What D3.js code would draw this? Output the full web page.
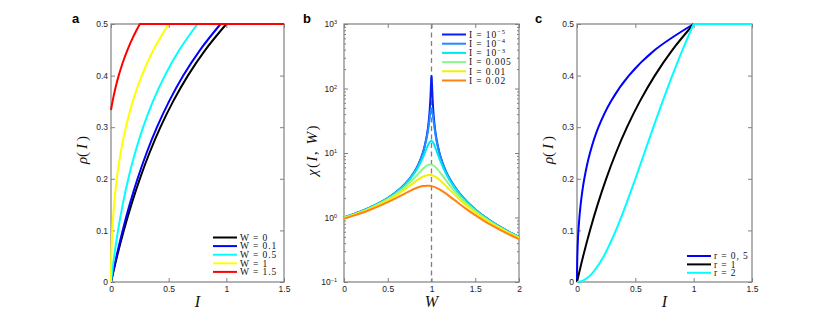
<!DOCTYPE html>
<html>
<head>
<meta charset="utf-8">
<style>
  body { margin: 0; background: #fff; }
  .tick text { font-family: "Liberation Sans", Arial, sans-serif; font-size: 8.5px; fill: #222; }
  .tick line { stroke: #808080; }
  .serif { font-family: "Liberation Serif", "Times New Roman", serif; fill: #111; }
  .letter { font-family: "Liberation Sans", Arial, sans-serif; font-weight: bold; font-size: 13px; }
</style>
</head>
<body>
<script src="https://cdn.jsdelivr.net/npm/d3@7"></script>
<script>
var width = 830, height = 317;
var plotTop = 24, plotBottom = 282;

// tick labels
var rhoTicks = [0, 0.1, 0.2, 0.3, 0.4, 0.5];
var iTicks = [0, 0.5, 1, 1.5];
var wTicks = [0, 0.5, 1, 1.5, 2];
var chiTicks = [0.1, 1, 10, 100, 1000];

// panel a : rho(I) for several W, points [I, rho]
var rhoW0 = [[0,0],[0.0526,0.05],[0.1111,0.1],[0.1765,0.15],[0.25,0.2],[0.3333,0.25],[0.4286,0.3],[0.5385,0.35],[0.6667,0.4],[0.8182,0.45],[1,0.5],[1.5,0.5]];
var rhoW01 = [[0,0],[0.0476,0.05],[0.1011,0.1],[0.1615,0.15],[0.23,0.2],[0.3083,0.25],[0.3986,0.3],[0.5035,0.35],[0.6267,0.4],[0.7732,0.45],[0.95,0.5],[1.5,0.5]];
var rhoW05 = [[0,0],[0.0131,0.025],[0.0276,0.05],[0.0611,0.1],[0.1015,0.15],[0.15,0.2],[0.2083,0.25],[0.2786,0.3],[0.3635,0.35],[0.4667,0.4],[0.5932,0.45],[0.75,0.5],[1.5,0.5]];
var rhoW1 = [[0,0],[0.0001,0.01],[0.0004,0.02],[0.0009,0.03],[0.0026,0.05],[0.0061,0.075],[0.0111,0.1],[0.0265,0.15],[0.05,0.2],[0.0833,0.25],[0.1286,0.3],[0.1885,0.35],[0.2667,0.4],[0.3682,0.45],[0.5,0.5],[1.5,0.5]];
var rhoW15 = [[0,0.3333],[0.0135,0.35],[0.0375,0.375],[0.0667,0.4],[0.1016,0.425],[0.1432,0.45],[0.1923,0.475],[0.25,0.5],[1.5,0.5]];
var wLabels = ["W = 0", "W = 0.1", "W = 0.5", "W = 1", "W = 1.5"];
var wColors = ["#000000", "#0000ff", "#00ffff", "#ffff00", "#ff0000"];

// panel b : chi(I, W), points [W, chi]
var chiI1 = [[0,1.000],[0.1,1.111],[0.2,1.250],[0.3,1.428],[0.4,1.667],[0.5,2.000],[0.6,2.500],[0.7,3.333],[0.8,4.998],[0.85,6.661],[0.9,9.980],[0.95,19.84],[0.97,32.62],[0.98,47.67],[0.99,84.50],[0.995,123.9],[0.998,150.6],[1,157.6],[1.002,150.1],[1.005,123.1],[1.01,83.54],[1.02,46.69],[1.03,31.65],[1.05,18.89],[1.07,13.29],[1.1,9.071],[1.15,5.791],[1.2,4.164],[1.3,2.563],[1.4,1.785],[1.5,1.333],[1.6,1.042],[1.7,0.8403],[1.8,0.6944],[1.9,0.5848],[2,0.5000]];
var chiI2 = [[0,0.9998],[0.1,1.111],[0.2,1.250],[0.3,1.428],[0.4,1.666],[0.5,1.998],[0.6,2.497],[0.7,3.326],[0.8,4.975],[0.85,6.608],[0.9,9.806],[0.95,18.57],[0.97,27.72],[0.98,35.30],[0.99,44.53],[0.995,48.19],[1,49.50],[1.005,47.83],[1.01,43.92],[1.02,34.43],[1.03,26.78],[1.05,17.62],[1.07,12.80],[1.1,8.897],[1.15,5.739],[1.2,4.142],[1.3,2.557],[1.4,1.783],[1.5,1.332],[1.6,1.041],[1.7,0.8398],[1.8,0.6941],[1.9,0.5845],[2,0.4998]];
var chiI3 = [[0,0.998],[0.1,1.108],[0.2,1.246],[0.3,1.423],[0.4,1.657],[0.5,1.984],[0.6,2.469],[0.7,3.261],[0.8,4.766],[0.85,6.138],[0.9,8.434],[0.95,12.31],[0.97,14.09],[0.98,14.80],[0.99,15.24],[1,15.32],[1.01,15.01],[1.02,14.38],[1.03,13.51],[1.05,11.54],[1.07,9.711],[1.1,7.559],[1.15,5.278],[1.2,3.936],[1.3,2.493],[1.4,1.755],[1.5,1.318],[1.6,1.033],[1.7,0.8346],[1.8,0.6906],[1.9,0.5821],[2,0.4980]];
var chiI005 = [[0,0.9901],[0.1,1.098],[0.2,1.231],[0.3,1.400],[0.4,1.622],[0.5,1.923],[0.6,2.355],[0.7,3.008],[0.8,4.058],[0.85,4.799],[0.9,5.657],[0.95,6.407],[0.97,6.573],[0.98,6.611],[0.99,6.615],[1,6.584],[1.01,6.519],[1.02,6.422],[1.03,6.295],[1.05,5.973],[1.07,5.590],[1.1,4.978],[1.15,4.031],[1.2,3.272],[1.3,2.252],[1.4,1.645],[1.5,1.259],[1.6,0.9977],[1.7,0.8123],[1.8,0.6755],[1.9,0.5714],[2,0.4902]];
var chiI01 = [[0,0.9803],[0.1,1.084],[0.2,1.212],[0.3,1.372],[0.4,1.579],[0.5,1.853],[0.6,2.228],[0.7,2.753],[0.8,3.476],[0.85,3.893],[0.9,4.283],[0.95,4.531],[0.97,4.562],[0.98,4.560],[0.99,4.545],[1,4.519],[1.01,4.480],[1.02,4.430],[1.03,4.370],[1.05,4.222],[1.07,4.045],[1.1,3.747],[1.15,3.232],[1.2,2.759],[1.3,2.024],[1.4,1.530],[1.5,1.194],[1.6,0.9580],[1.7,0.7865],[1.8,0.6578],[1.9,0.5588],[2,0.4809]];
var chiI02 = [[0,0.9612],[0.1,1.058],[0.2,1.176],[0.3,1.321],[0.4,1.501],[0.5,1.728],[0.6,2.017],[0.7,2.373],[0.8,2.768],[0.85,2.945],[0.9,3.073],[0.95,3.119],[0.97,3.109],[0.98,3.097],[0.99,3.082],[1,3.062],[1.01,3.038],[1.02,3.011],[1.03,2.979],[1.05,2.907],[1.07,2.823],[1.1,2.682],[1.15,2.424],[1.2,2.165],[1.3,1.705],[1.4,1.350],[1.5,1.086],[1.6,0.8890],[1.7,0.7401],[1.8,0.6253],[1.9,0.5352],[2,0.4633]];
var iLabels = [["I = 10", "\u22125"], ["I = 10", "\u22124"], ["I = 10", "\u22123"], ["I = 0.005"], ["I = 0.01"], ["I = 0.02"]];
var iColors = ["#0a1ef0", "#1e8cff", "#00e6ea", "#8cf58c", "#f5f000", "#ff8214"];

// panel c : rho(I) for several r, points [I, rho]
var rhoR05 = [[0,0],[0.0007,0.025],[0.0028,0.05],[0.0066,0.075],[0.0123,0.1],[0.0311,0.15],[0.0625,0.2],[0.1111,0.25],[0.1837,0.3],[0.2899,0.35],[0.4444,0.4],[0.6694,0.45],[1,0.5],[1.5,0.5]];
var rhoR1 = [[0,0],[0.0526,0.05],[0.1111,0.1],[0.1765,0.15],[0.25,0.2],[0.3333,0.25],[0.4286,0.3],[0.5385,0.35],[0.6667,0.4],[0.8182,0.45],[1,0.5],[1.5,0.5]];
var rhoR2 = [[0,0],[0.05,0.0025],[0.1005,0.01],[0.1429,0.02],[0.2294,0.05],[0.3333,0.1],[0.4201,0.15],[0.5,0.2],[0.5774,0.25],[0.6547,0.3],[0.7338,0.35],[0.8165,0.4],[0.9045,0.45],[1,0.5],[1.5,0.5]];
var rLabels = ["r = 0, 5", "r = 1", "r = 2"];
var rColors = ["#0000ff", "#000000", "#00ffff"];

var svg = d3.select("body").append("svg").attr("width", width).attr("height", height);

function axes(x, y, xTicks, yTicks, yFormat, yPad) {
  var g = svg.append("g");
  g.append("g").attr("transform", "translate(0," + plotBottom + ")")
    .call(d3.axisBottom(x).tickValues(xTicks).tickSize(-4).tickSizeOuter(0).tickPadding(4).tickFormat(String));
  g.append("g").attr("transform", "translate(0," + plotTop + ")")
    .call(d3.axisTop(x).tickValues(xTicks).tickSize(-4).tickSizeOuter(0).tickFormat(""));
  g.append("g").attr("class", "yleft").attr("transform", "translate(" + x.range()[0] + ",0)")
    .call(d3.axisLeft(y).tickValues(yTicks).tickSize(-4).tickSizeOuter(0).tickPadding(yPad).tickFormat(yFormat));
  g.append("g").attr("transform", "translate(" + x.range()[1] + ",0)")
    .call(d3.axisRight(y).tickValues(yTicks).tickSize(-4).tickSizeOuter(0).tickFormat(""));
  g.selectAll(".domain").remove();
  g.append("rect")
    .attr("x", x.range()[0]).attr("y", plotTop)
    .attr("width", x.range()[1] - x.range()[0]).attr("height", plotBottom - plotTop)
    .attr("fill", "none").attr("stroke", "#808080").attr("stroke-width", 1.2);
  return g;
}

function rhoPath(x, y, pts) {
  var line = d3.line().x(function(d) { return x(d[0]); }).y(function(d) { return y(d[1]); })
    .curve(d3.curveCatmullRom.alpha(0.5));
  var last = pts[pts.length - 1];
  return line(pts.slice(0, -1)) + "L" + x(last[0]) + "," + y(last[1]);
}

function legend(lx, ly, step, labels, colors) {
  labels.forEach(function(l, i) {
    var yy = ly + i * step;
    svg.append("line").attr("x1", lx).attr("x2", lx + 24).attr("y1", yy).attr("y2", yy)
      .attr("stroke", colors[i]).attr("stroke-width", 2);
    var t = svg.append("text").attr("class", "serif").attr("x", lx + 27).attr("y", yy + 3.2)
      .attr("font-size", "9.5px").attr("letter-spacing", "0.9px");
    if (typeof l === "string") t.text(l);
    else {
      t.append("tspan").text(l[0]);
      if (l[1]) t.append("tspan").attr("dy", "-3.5").attr("font-size", "6.5px").text(l[1]);
    }
  });
}

function xLabel(cx, txt) {
  svg.append("text").attr("class", "serif").attr("x", cx).attr("y", 307)
    .attr("text-anchor", "middle").attr("font-size", "16px").attr("font-style", "italic").text(txt);
}

function rhoLabel(bx) {
  var t = svg.append("text").attr("class", "serif")
    .attr("transform", "translate(" + bx + ",150) rotate(-90)")
    .attr("text-anchor", "middle").attr("font-size", "15px");
  t.append("tspan").attr("font-style", "italic").text("\u03c1");
  t.append("tspan").text("(\u2009");
  t.append("tspan").attr("font-style", "italic").text("I");
  t.append("tspan").text("\u2009)");
}

// ---- panel a
var xa = d3.scaleLinear().domain([0, 1.5]).range([111, 284]);
var ya = d3.scaleLinear().domain([0, 0.5]).range([plotBottom, plotTop]);
axes(xa, ya, iTicks, rhoTicks, String, 3);
[rhoW0, rhoW01, rhoW05, rhoW1, rhoW15].forEach(function(s, i) {
  svg.append("path").attr("d", rhoPath(xa, ya, s)).attr("fill", "none")
    .attr("stroke", wColors[i]).attr("stroke-width", 2).attr("stroke-linejoin", "round");
});
legend(213, 237.5, 8.6, wLabels, wColors);
xLabel(197.5, "I");
rhoLabel(87);
svg.append("text").attr("class", "letter").attr("x", 72).attr("y", 22.5).text("a");

// ---- panel b
var xb = d3.scaleLinear().domain([0, 2]).range([344, 519]);
var yb = d3.scaleLog().domain([0.1, 1000]).range([plotBottom, plotTop]);
var gb = axes(xb, yb, wTicks, chiTicks, function() { return ""; }, 7);
gb.selectAll(".yleft .tick text").each(function(d) {
  var e = Math.round(Math.log10(d));
  var t = d3.select(this).text("");
  t.append("tspan").text("10");
  t.append("tspan").attr("dy", "-0.55em").attr("font-size", "5.5px").text(e < 0 ? "\u2212" + (-e) : String(e));
});
var minor = [];
[0.1, 1, 10, 100].forEach(function(dec) { for (var k = 2; k <= 9; k++) minor.push(dec * k); });
svg.append("g").attr("transform", "translate(344,0)")
  .call(d3.axisLeft(yb).tickValues(minor).tickSize(-2).tickFormat("")).select(".domain").remove();
svg.append("g").attr("transform", "translate(519,0)")
  .call(d3.axisRight(yb).tickValues(minor).tickSize(-2).tickFormat("")).select(".domain").remove();
svg.append("line").attr("x1", xb(1)).attr("x2", xb(1)).attr("y1", plotTop).attr("y2", plotBottom)
  .attr("stroke", "#808080").attr("stroke-width", 1.3).attr("stroke-dasharray", "5,3.5");
var lineB = d3.line().x(function(d) { return xb(d[0]); }).y(function(d) { return yb(d[1]); })
  .curve(d3.curveCatmullRom.alpha(0.5));
[chiI1, chiI2, chiI3, chiI005, chiI01, chiI02].forEach(function(s, i) {
  svg.append("path").attr("d", lineB(s)).attr("fill", "none")
    .attr("stroke", iColors[i]).attr("stroke-width", 2).attr("stroke-linejoin", "round");
});
legend(442, 34.5, 9.2, iLabels, iColors);
xLabel(431.5, "W");
var tb = svg.append("text").attr("class", "serif")
  .attr("transform", "translate(317,150) rotate(-90)")
  .attr("text-anchor", "middle").attr("font-size", "15px").attr("letter-spacing", "1.5px");
tb.append("tspan").attr("font-style", "italic").text("\u03c7");
tb.append("tspan").text("(");
tb.append("tspan").attr("font-style", "italic").text("I");
tb.append("tspan").text(", ");
tb.append("tspan").attr("font-style", "italic").text("W");
tb.append("tspan").text(")");
svg.append("text").attr("class", "letter").attr("x", 303).attr("y", 22.5).text("b");

// ---- panel c
var xc = d3.scaleLinear().domain([0, 1.5]).range([577, 752]);
var yc = d3.scaleLinear().domain([0, 0.5]).range([plotBottom, plotTop]);
axes(xc, yc, iTicks, rhoTicks, String, 3);
[rhoR05, rhoR1, rhoR2].forEach(function(s, i) {
  svg.append("path").attr("d", rhoPath(xc, yc, s)).attr("fill", "none")
    .attr("stroke", rColors[i]).attr("stroke-width", 2).attr("stroke-linejoin", "round");
});
legend(687, 256, 8.4, rLabels, rColors);
xLabel(664.5, "I");
rhoLabel(553);
svg.append("text").attr("class", "letter").attr("x", 535).attr("y", 22.5).text("c");
</script>
</body>
</html>
